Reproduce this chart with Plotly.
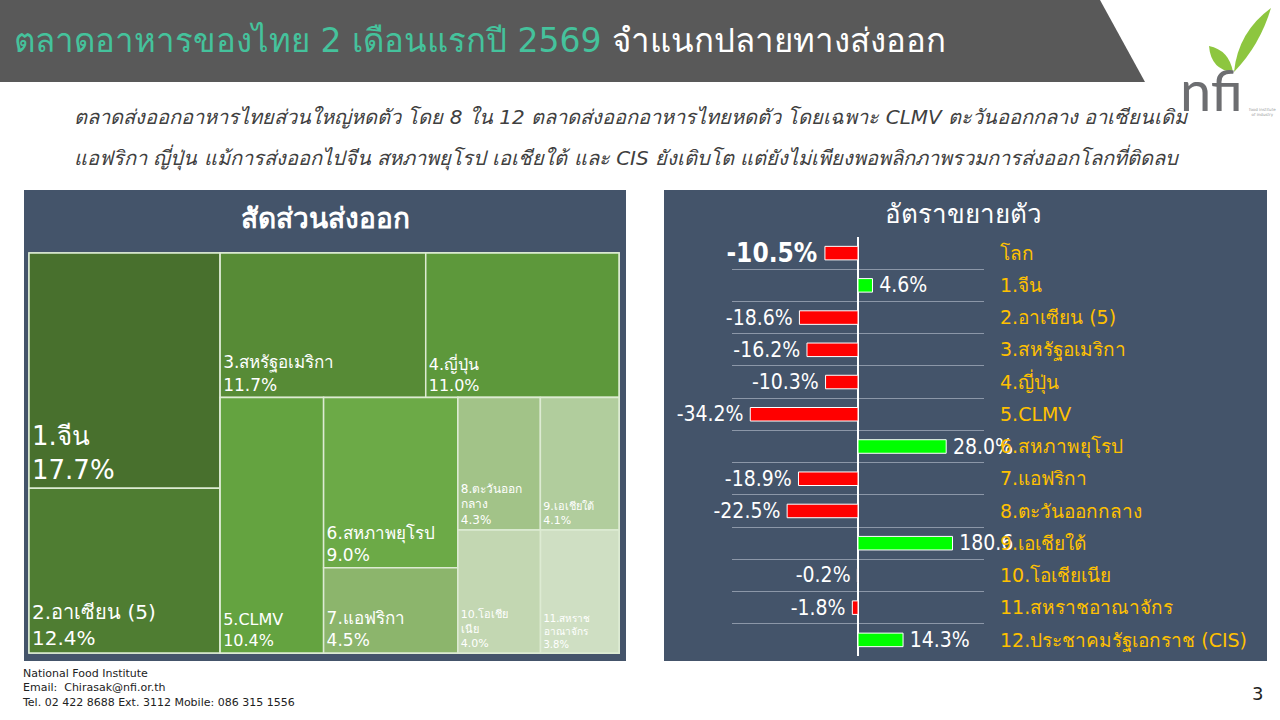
import plotly.graph_objects as go

# ---- data ----
share_labels = ['1.จีน', '2.อาเซียน (5)', '3.สหรัฐอเมริกา', '4.ญี่ปุ่น', '5.CLMV',
                '6.สหภาพยุโรป', '7.แอฟริกา', '8.ตะวันออก<br>กลาง', '9.เอเชียใต้',
                '10.โอเชีย<br>เนีย', '11.สหราช<br>อาณาจักร']
share_values = [17.7, 12.4, 11.7, 11.0, 10.4, 9.0, 4.5, 4.3, 4.1, 4.0, 3.8]

growth_labels = ['โลก', '1.จีน', '2.อาเซียน (5)', '3.สหรัฐอเมริกา', '4.ญี่ปุ่น', '5.CLMV',
                 '6.สหภาพยุโรป', '7.แอฟริกา', '8.ตะวันออกกลาง', '9.เอเชียใต้',
                 '10.โอเชียเนีย', '11.สหราชอาณาจักร', '12.ประชาคมรัฐเอกราช (CIS)']
growth_values = [-10.5, 4.6, -18.6, -16.2, -10.3, -34.2, 28.0, -18.9, -22.5, 180.6, -0.2, -1.8, 14.3]
growth_text = ['<b>-10.5%</b>', '4.6%', '-18.6%', '-16.2%', '-10.3%', '-34.2%', '28.0%',
               '-18.9%', '-22.5%', '180.6', '-0.2%', '-1.8%', '14.3%']

# ---- styling / layout helpers ----
share_colors = ['#48702D', '#4F7D32', '#578B36', '#5D983B', '#64A340', '#6CAA47',
                '#8CB56C', '#A2C388', '#B1CD9D', '#C3D7B2', '#CFDFC3']
share_font_sizes = [26, 20, 17, 16, 16, 17, 17, 12, 11, 11, 10]
# invisible grouping so the slice/dice tiling gives the same blocks as the slide
# (sibling order follows the order of the ids)
group_parent = {'G1': '', 'G2': '', 'G2a': 'G2', 'G2b': 'G2', 'G5': 'G2b', 'G3': 'G2b',
                'G4': 'G2b', 'R1': 'G4', 'R2': 'G4'}
share_group = ['G1', 'G1', 'G2a', 'G2a', 'G5', 'G3', 'G3', 'R1', 'R1', 'R2', 'R2']

BAR_CAP = 30  # on the slide the 180.6 bar is drawn cut at about 30
W, H = 1280, 720


def px(x):
    return x / W


def py(y):
    return 1 - y / H


FONT = 'DejaVu Sans'
NUM_FONT = 'DejaVu Sans Condensed'

fig = go.Figure()

# Treemap - export share
ids = list(group_parent) + [f'L{i}' for i in range(len(share_labels))]
parents = list(group_parent.values()) + share_group
values = [0] * len(group_parent) + share_values
texts = [''] * len(group_parent) + [f'{lab}<br>{v:.1f}%' for lab, v in zip(share_labels, share_values)]
colors = ['#44546A'] * len(group_parent) + share_colors
sizes = [10] * len(group_parent) + share_font_sizes

fig.add_trace(go.Treemap(
    ids=ids,
    labels=ids,
    parents=parents,
    values=values,
    branchvalues='remainder',
    text=texts,
    texttemplate='%{text}',
    textposition='bottom left',
    textfont=dict(color='white', size=sizes, family=FONT),
    marker=dict(colors=colors, line=dict(color='#DDEBD3', width=1.5),
                pad=dict(t=0, l=0, r=0, b=0), depthfade=False),
    tiling=dict(packing='slice-dice', pad=0),
    pathbar=dict(visible=False),
    sort=False,
    hoverinfo='skip',
    domain=dict(x=[px(29), px(619)], y=[py(653), py(253)]),
))

# Bars - growth rate
bar_x = [min(v, BAR_CAP) for v in growth_values]
bar_colors = ['#FF0000' if v < 0 else '#00FF00' for v in growth_values]
# small gap between bar end and its label, as on the slide
bar_text = [t + '\u2009' if v < 0 else '\u2009' + t for t, v in zip(growth_text, growth_values)]
fig.add_trace(go.Bar(
    x=bar_x,
    y=list(range(len(growth_labels))),
    orientation='h',
    width=0.42,
    marker=dict(color=bar_colors, line=dict(color='white', width=1)),
    text=bar_text,
    textposition='outside',
    constraintext='none',
    textfont=dict(color='white', size=[26] + [21] * 12, family=NUM_FONT),
    cliponaxis=False,
    hoverinfo='skip',
    xaxis='x', yaxis='y',
))

fig.update_layout(
    width=W, height=H,
    margin=dict(l=0, r=0, t=0, b=0),
    paper_bgcolor='white', plot_bgcolor='rgba(0,0,0,0)',
    showlegend=False,
    font=dict(family=FONT),
    xaxis=dict(domain=[px(732), px(984)], range=[-40, 40], showgrid=False,
               showticklabels=False, zeroline=True, zerolinecolor='white', zerolinewidth=2,
               fixedrange=True),
    yaxis=dict(domain=[py(656), py(237)], range=[12.5, -0.5], side='right',
               tickvals=list(range(len(growth_labels))), ticktext=growth_labels,
               tickfont=dict(color='#FFC000', size=19, family=FONT),
               ticks='', ticklabelstandoff=15, showgrid=False, zeroline=False,
               minor=dict(tick0=0.5, dtick=1, showgrid=True, gridcolor='#8C97A8', gridwidth=1),
               fixedrange=True),
)

shapes = [
    # header band
    dict(type='path', xref='paper', yref='paper', layer='below',
         path=f'M 0 {py(0)} L {px(1100)} {py(0)} L {px(1145)} {py(82)} L 0 {py(82)} Z',
         fillcolor='#595959', line=dict(width=0)),
    # panels
    dict(type='rect', xref='paper', yref='paper', layer='below',
         x0=px(24), x1=px(626), y0=py(661), y1=py(190), fillcolor='#44546A', line=dict(width=0)),
    dict(type='rect', xref='paper', yref='paper', layer='below',
         x0=px(664), x1=px(1267), y0=py(661), y1=py(190), fillcolor='#44546A', line=dict(width=0)),
    # logo leaves
    dict(type='path', xref='paper', yref='paper',
         path=f'M {px(1234)} {py(72)} Q {px(1238)} {py(32)} {px(1271)} {py(8)} '
              f'Q {px(1260)} {py(45)} {px(1234)} {py(72)} Z',
         fillcolor='#8DC63F', line=dict(width=0)),
    dict(type='path', xref='paper', yref='paper',
         path=f'M {px(1233)} {py(72)} Q {px(1211)} {py(70)} {px(1209)} {py(46)} '
              f'Q {px(1229)} {py(50)} {px(1233)} {py(72)} Z',
         fillcolor='#8DC63F', line=dict(width=0)),
]
fig.update_layout(shapes=shapes)


def note(x, y, text, size, color, anchor='left', family=FONT, **kw):
    return dict(x=px(x), y=py(y), xref='paper', yref='paper', xanchor=anchor, yanchor='middle',
                showarrow=False, text=text, font=dict(size=size, color=color, family=family), **kw)


annotations = [
    note(12, 40, '<span style="color:#45C29C">ตลาดอาหารของไทย 2 เดือนแรกปี 2569</span> จำแนกปลายทางส่งออก',
         33, 'white'),
    note(72, 117, '<i>ตลาดส่งออกอาหารไทยส่วนใหญ่หดตัว โดย 8 ใน 12 ตลาดส่งออกอาหารไทยหดตัว โดยเฉพาะ CLMV ตะวันออกกลาง อาเซียนเดิม</i>',
         20, '#404040'),
    note(72, 157, '<i>แอฟริกา ญี่ปุ่น แม้การส่งออกไปจีน สหภาพยุโรป เอเชียใต้ และ CIS ยังเติบโต แต่ยังไม่เพียงพอพลิกภาพรวมการส่งออกโลกที่ติดลบ</i>',
         20, '#404040'),
    note(325, 218, '<b>สัดส่วนส่งออก</b>', 28, 'white', anchor='center'),
    note(963, 214, 'อัตราขยายตัว', 26, 'white', anchor='center'),
    note(1211, 89, 'nfi', 56, '#6D6E71', anchor='center', family='Lato'),
    note(1262, 112, 'food institute<br>of industry', 4, '#999999', anchor='center'),
    note(20, 688, 'National Food Institute<br>Email:  Chirasak@nfi.or.th<br>Tel. 02 422 8688 Ext. 3112 Mobile: 086 315 1556',
         11, '#222222', align='left'),
    note(1257, 693, '3', 18, '#222222', anchor='center'),
]
fig.update_layout(annotations=annotations)

fig.write_html('out.html', config={'displayModeBar': False},
               post_script="document.body.style.margin='0';")
